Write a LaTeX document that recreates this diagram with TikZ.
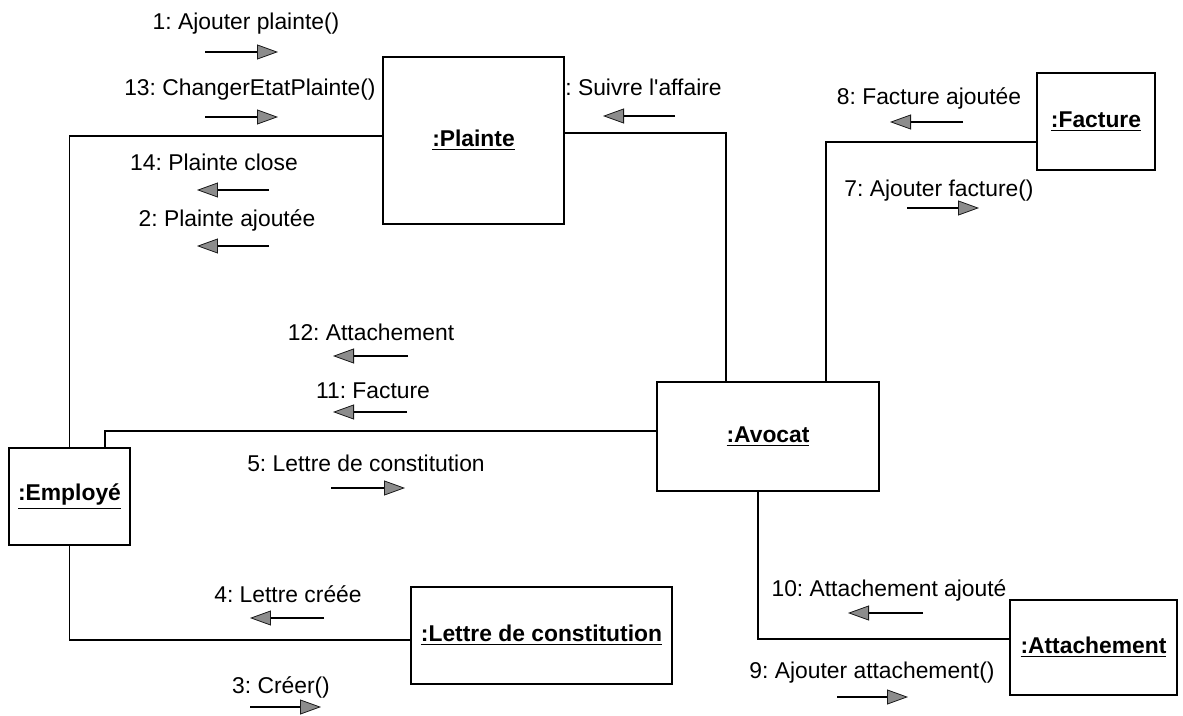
\documentclass[tikz,border=0pt]{standalone}
\usepackage{fontspec}
\setmainfont{Liberation Sans}
\usetikzlibrary{arrows.meta}
\frenchspacing
\begin{document}
\begin{tikzpicture}[x=0.02cm,y=-0.02cm,
  font=\fontsize{13}{15}\selectfont,
  obj/.style={draw, line width=0.8pt, fill=white, inner sep=0pt,
    font=\fontsize{13}{15}\selectfont\bfseries},
  link/.style={line width=0.7pt},
  msg/.style={anchor=base, inner sep=0pt},
  msgw/.style={anchor=base west, inner sep=0pt},
  msge/.style={anchor=base east, inner sep=0pt},
  call/.style={line width=0.6pt,
    -{Triangle[length=4.2mm,width=3mm,color=black!90,fill=black!45,line width=0.45pt]}},
]
% page area
\fill[white] (0,0) rectangle (1183,716);
\useasboundingbox (0,0) rectangle (1183,716);

% objects
\node[obj, minimum width=3.62cm, minimum height=3.34cm] (pl)  at (473.5,140.5) {\underline{:Plainte}};
\node[obj, minimum width=2.36cm, minimum height=1.94cm] (fac) at (1096,121.5)  {\underline{:Facture}};
\node[obj, minimum width=4.44cm, minimum height=2.18cm] (av)  at (768,436.5)   {\underline{:Avocat}};
\node[obj, minimum width=2.42cm, minimum height=1.94cm] (emp) at (69.5,496.5)  {\underline{:Employé}};
\node[obj, minimum width=5.22cm, minimum height=1.94cm] (let) at (541.5,635.5) {\underline{:Lettre de constitution}};
\node[obj, minimum width=3.34cm, minimum height=1.90cm] (att) at (1093.5,647.5) {\underline{:Attachement}};

% links
\draw[link] (emp.north) |- ([yshift=0.09cm]pl.west);
\draw[link] ([xshift=0.71cm]emp.north) |- ([yshift=0.11cm]av.west);
\draw[link] (emp.south) |- ([yshift=-0.09cm]let.west);
\draw[link] ([yshift=0.15cm]pl.east) -| ([xshift=-0.84cm]av.north);
\draw[link] ([xshift=1.16cm]av.north) |- ([yshift=-0.41cm]fac.west);
\draw[link] ([xshift=-0.2cm]av.south) |- ([yshift=0.17cm]att.west);

% message labels
\node[msg]  (t1)  at (246,30)  {1: Ajouter plainte()};
\node[msge] (t13) at (376,96)  {13: ChangerEtatPlainte()};
\node[msg]  (t14) at (214,171) {14: Plainte close};
\node[msg]  (t2)  at (227,227) {2: Plainte ajoutée};
\node[msgw] (t6)  at (565,96)  {: Suivre l\textquotesingle affaire};
\node[msg]  (t8)  at (929,105) {8: Facture ajoutée};
\node[msg]  (t7)  at (939,197) {7: Ajouter facture()};
\node[msg]  (t12) at (371,340) {12: Attachement};
\node[msg]  (t11) at (373,398) {11: Facture};
\node[msg]  (t5)  at (366,471) {5: Lettre de constitution};
\node[msg]  (t4)  at (288,602) {4: Lettre créée};
\node[msg]  (t3)  at (281,693) {3: Créer()};
\node[msg]  (t10) at (889,596) {10: Attachement ajouté};
\node[msg]  (t9)  at (872,678) {9: Ajouter attachement()};

% message arrows
\coordinate (a1s)  at (205,52);  \coordinate (a1e)  at (278,52);
\coordinate (a13s) at (205,117); \coordinate (a13e) at (278,117);
\coordinate (a14s) at (269,190); \coordinate (a14e) at (197,190);
\coordinate (a2s)  at (269,246); \coordinate (a2e)  at (197,246);
\coordinate (a6s)  at (675,116); \coordinate (a6e)  at (603,116);
\coordinate (a8s)  at (963,122); \coordinate (a8e)  at (890,122);
\coordinate (a7s)  at (907,208); \coordinate (a7e)  at (979,208);
\coordinate (a12s) at (408,356); \coordinate (a12e) at (333,356);
\coordinate (a11s) at (407,412); \coordinate (a11e) at (333,412);
\coordinate (a5s)  at (331,488); \coordinate (a5e)  at (405,488);
\coordinate (a4s)  at (324,618); \coordinate (a4e)  at (250,618);
\coordinate (a3s)  at (250,707); \coordinate (a3e)  at (321,707);
\coordinate (a10s) at (923,613); \coordinate (a10e) at (848,613);
\coordinate (a9s)  at (837,697); \coordinate (a9e)  at (908,697);
\foreach \m in {1,13,14,2,6,8,7,12,11,5,4,3,10,9}
  \draw[call] (a\m s) -- (a\m e);
\end{tikzpicture}
\end{document}
